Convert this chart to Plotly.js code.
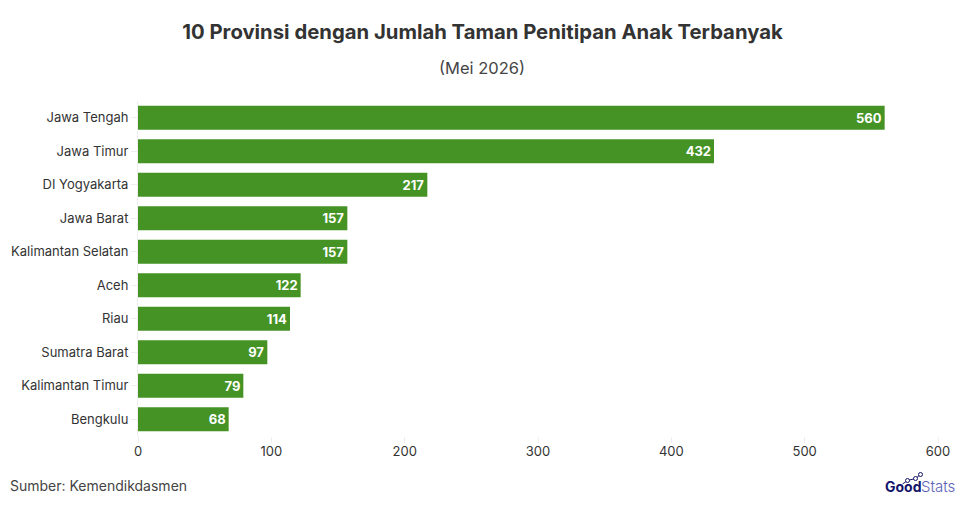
<!DOCTYPE html>
<html><head><meta charset="utf-8">
<script src="https://cdn.plot.ly/plotly-3.0.1.min.js"></script>
<style>html,body{margin:0;padding:0;background:#fff}</style></head>
<body><div id="chart" style="width:965px;height:506px"></div>
<script>
const provinces = ["Jawa Tengah","Jawa Timur","DI Yogyakarta","Jawa Barat","Kalimantan Selatan","Aceh","Riau","Sumatra Barat","Kalimantan Timur","Bengkulu"];
const counts = [560,432,217,157,157,122,114,97,79,68];
const xTicks = [0,100,200,300,400,500,600];
const F = "Inter, 'Open Sans', sans-serif";
const L=138,T=101,W=800.5,H=335;
const px=p=>(p-L)/W, py=p=>(T+H-p)/H;
const dots=[[908,480.5],[916,478.5],[921,474.5]];
const logoPath="M"+[[903,484],...dots].map(d=>px(d[0])+" "+py(d[1])).join(" L");
Plotly.newPlot("chart",[{
  type:"bar",orientation:"h",y:provinces,x:counts,
  marker:{color:"#459325"},width:0.72,
  text:counts.map(String),textposition:"inside",insidetextanchor:"end",
  textangle:0,constraintext:"none",
  textfont:{family:F,size:13,color:"#fff",weight:700},
  hoverinfo:"x+y",cliponaxis:false
}],{
  width:965,height:506,paper_bgcolor:"#fff",plot_bgcolor:"#fff",
  margin:{l:L,r:965-L-W,t:T,b:506-T-H},
  showlegend:false,
  font:{family:F,size:13,color:"#333"},
  title:{text:"<b>10 Provinsi dengan Jumlah Taman Penitipan Anak Terbanyak</b>",
    font:{family:F,size:20.3,color:"#333"},x:482.5/965,xanchor:"center",y:1-31.5/506,yanchor:"middle"},
  xaxis:{range:[0,600],tickvals:xTicks,showgrid:false,zeroline:false,showline:false,
    ticks:"outside",ticklen:6,tickcolor:"#eeeeee",tickwidth:1,ticklabelstandoff:-3,
    tickfont:{family:F,size:13,color:"#333"}},
  yaxis:{autorange:"reversed",showgrid:false,zeroline:false,showline:true,linecolor:"#eeeeee",linewidth:1,
    ticks:"outside",ticklen:6,tickcolor:"#eeeeee",tickwidth:1,
    ticklabelstandoff:0,tickfont:{family:F,size:13,color:"#333"}},
  shapes:[
    {type:"path",xref:"paper",yref:"paper",path:logoPath,line:{color:"#14146b",width:1}},
    ...dots.map(d=>({type:"circle",xref:"paper",yref:"paper",
      x0:px(d[0]-2),x1:px(d[0]+2),y0:py(d[1]+2),y1:py(d[1]-2),
      line:{color:"#14146b",width:1},fillcolor:"#fff"}))
  ],
  annotations:[
    {text:"(Mei 2026)",xref:"paper",yref:"paper",x:px(482.5),xanchor:"center",y:py(68),yanchor:"middle",showarrow:false,font:{family:F,size:16.5,color:"#444"}},
    {text:"Sumber: Kemendikdasmen",xref:"paper",yref:"paper",x:px(8),xanchor:"left",y:py(485),yanchor:"middle",showarrow:false,font:{family:F,size:14,color:"#444"}},
    {text:"<b>Good</b>",xref:"paper",yref:"paper",x:px(924),xanchor:"right",y:py(487),yanchor:"middle",showarrow:false,font:{family:F,size:14,color:"#14146b"}},
    {text:"Stats",xref:"paper",yref:"paper",x:px(919),xanchor:"left",y:py(487),yanchor:"middle",showarrow:false,font:{family:F,size:15,color:"#5a62b5",weight:300}}
  ]
},{displayModeBar:false,responsive:false});
</script></body></html>
